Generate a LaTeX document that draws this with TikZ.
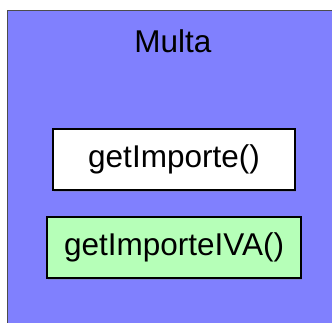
\documentclass[tikz,border=0pt]{standalone}
\usepackage{fontspec}
\setmainfont{Liberation Sans}
\usetikzlibrary{shadows}
\definecolor{classblue}{RGB}{128,128,254}
\definecolor{methodgreen}{RGB}{182,255,184}

\begin{document}
\begin{tikzpicture}[x=1pt, y=1pt, font=\fontsize{31.5}{38}\selectfont,
  method/.style = {draw=black, line width=1.2pt, minimum height=61pt, align=center, inner sep=0pt,
    drop shadow={shadow xshift=1.2pt, shadow yshift=-1.5pt, opacity=0.35}},
  classbox/.style = {draw=black!70, line width=0.8pt, fill=classblue}
]
\useasboundingbox (0,0) rectangle (332,-322);
\clip (0,0) rectangle (332,-322);
\draw[classbox] (7.5,-10) rectangle (345,-340);
\node (class_name) at (173,-41) {Multa};
\node[method, fill=white, minimum width=242pt] (get_importe) at (174,-159.5) {getImporte()};
\node[method, fill=methodgreen, minimum width=254pt] (get_importe_iva) at (174,-247.5) {getImporteIVA()};
\end{tikzpicture}
\end{document}
